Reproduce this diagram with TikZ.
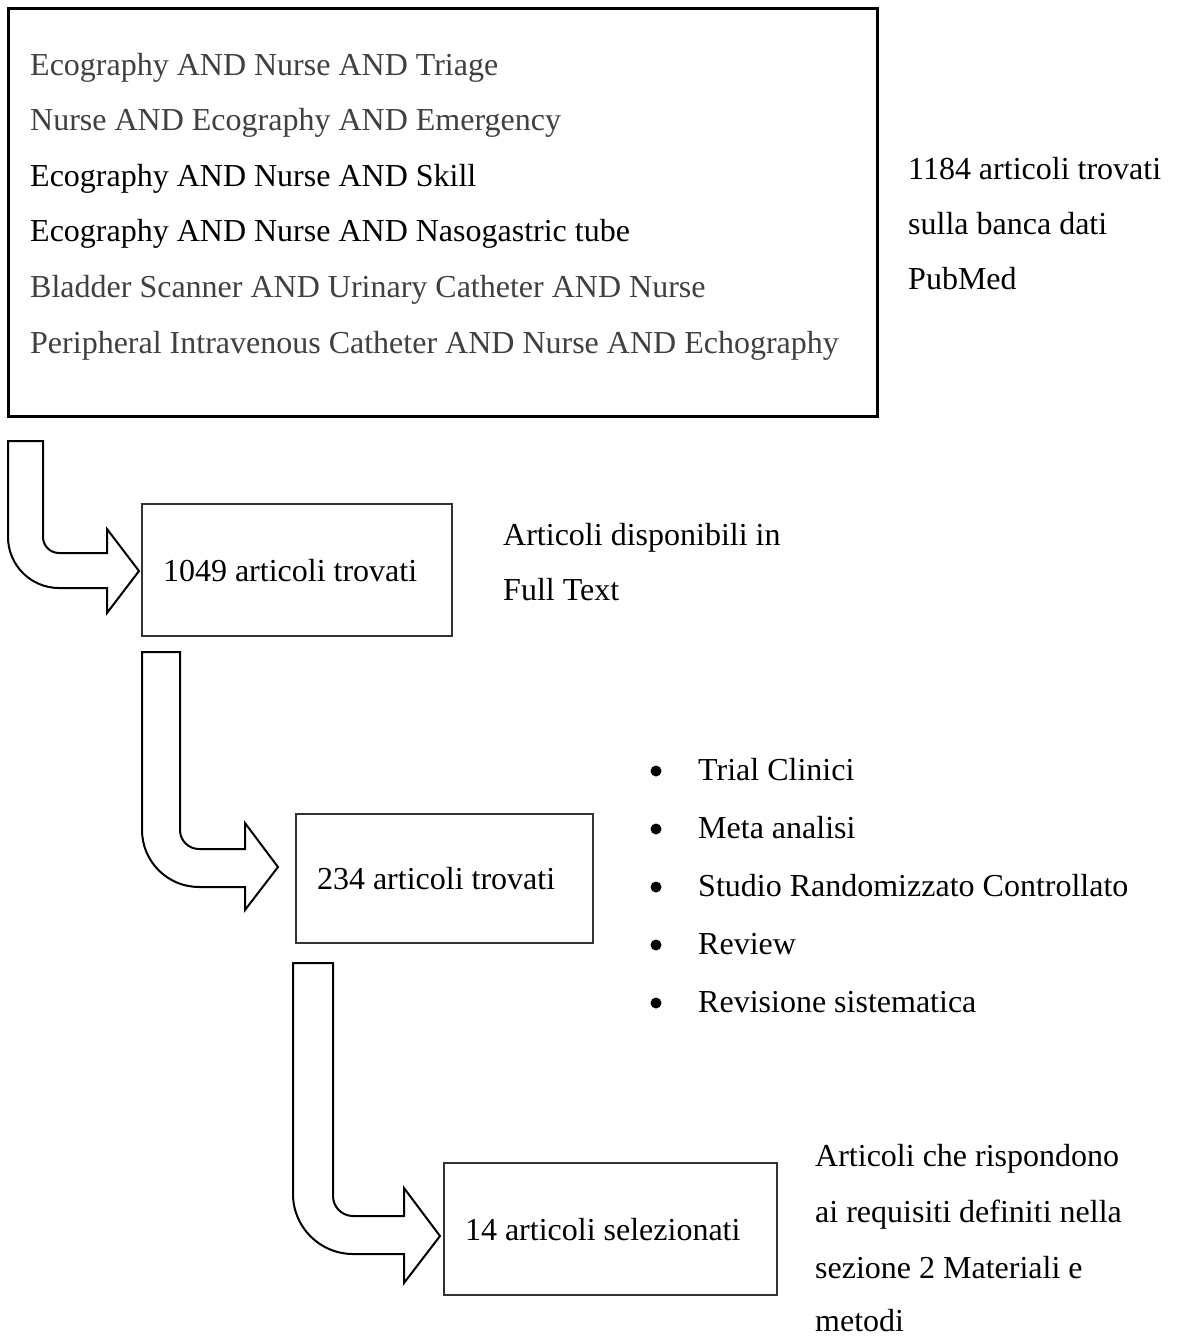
\documentclass[tikz,border=0pt]{standalone}
\usepackage{fontspec}
\setmainfont{Liberation Serif}
\definecolor{txtgray}{HTML}{404040}
\definecolor{boxline}{HTML}{333333}
\begin{document}
\begin{tikzpicture}[x=1pt,y=-1pt,
  every node/.style={font=\fontsize{32}{38}\selectfont, inner sep=0pt},
  txt/.style={anchor=base west},
  graytxt/.style={txt, text=txtgray},
  stagebox/.style={draw=boxline, line width=1.5pt, text height=22pt, text depth=0pt,
    align=flush left, inner xsep=21pt},
  bigarrow/.style={draw=black, line width=2pt, fill=white, line join=miter}]
\useasboundingbox[fill=white] (0,0) rectangle (1178,1337);

% top box
\node[draw=black, line width=3pt, minimum width=869pt, minimum height=407pt] (top) at (442.5,212.5) {};
\node[graytxt] (q1) at (30,76) {Ecography AND Nurse AND Triage};
\node[graytxt] (q2) at (30,131) {Nurse AND Ecography AND Emergency};
\node[txt] (q3) at (30,187) {Ecography AND Nurse AND Skill};
\node[txt] (q4) at (30,242) {Ecography AND Nurse AND Nasogastric tube};
\node[graytxt] (q5) at (30,298) {Bladder Scanner AND Urinary Catheter AND Nurse};
\node[graytxt] (q6) at (30,353) {Peripheral Intravenous Catheter AND Nurse AND Echography};

\node[txt] (n1a) at (908,180) {1184 articoli trovati};
\node[txt] (n1b) at (908,235) {sulla banca dati};
\node[txt] (n1c) at (908,290) {PubMed};

% stage boxes
\node[stagebox, text width=268pt, minimum height=132pt] (b1) at (297,570) {\mbox{1049 articoli trovati}};
\node[stagebox, text width=255pt, minimum height=129pt] (b2) at (444.5,878.5) {\mbox{234 articoli trovati}};
\node[stagebox, text width=291pt, minimum height=132pt] (b3) at (610.5,1229) {\mbox{14 articoli selezionati}};

\node[txt] (n2a) at (503,545) {Articoli disponibili in};
\node[txt] (n2b) at (503,600) {Full Text};

% bullet list
\foreach \y/\t [count=\i] in {780/Trial Clinici, 838/Meta analisi, 896/Studio Randomizzato Controllato, 954/Review, 1012/Revisione sistematica}{
  \fill (656,\y-9) circle (5.5pt);
  \node[txt] (l\i) at (698,\y) {\t};
}

\node[txt] (n3a) at (815,1166) {Articoli che rispondono};
\node[txt] (n3b) at (815,1222) {ai requisiti definiti nella};
\node[txt] (n3c) at (815,1278) {sezione 2 Materiali e};
\node[txt] (n3d) at (815,1331) {metodi};

% bent block arrows
\draw[bigarrow] (8,441) -- (43,441) -- (43,537) arc (180:90:16) -- (107,553) -- (107,529)
  -- (139,571) -- (107,613) -- (107,588) -- (59,588) arc (90:180:51) -- cycle;
\draw[bigarrow] (142,652) -- (180,652) -- (180,830) arc (180:90:19) -- (245,849) -- (245,823)
  -- (278,867) -- (245,910) -- (245,887) -- (199,887) arc (90:180:57) -- cycle;
\draw[bigarrow] (293,963) -- (333,963) -- (333,1196) arc (180:90:20) -- (404,1216) -- (404,1188)
  -- (440,1236) -- (404,1283) -- (404,1254) -- (353,1254) arc (90:180:60) -- cycle;
\end{tikzpicture}
\end{document}
